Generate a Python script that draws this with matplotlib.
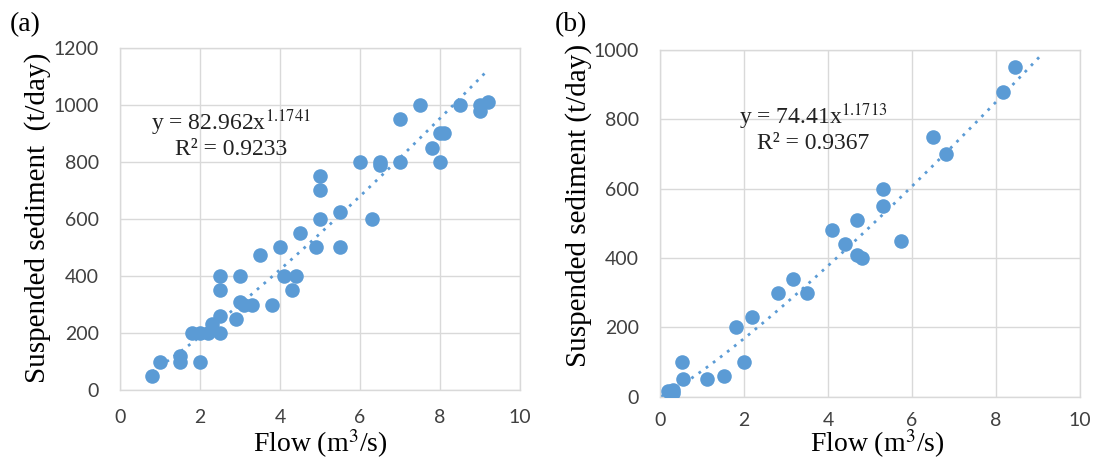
import numpy as np
import matplotlib; matplotlib.use("Agg")
import matplotlib.pyplot as plt

plt.rcParams["mathtext.fontset"] = "stix"

# panel (a)
flow_a = [0.8, 1.0, 1.5, 1.5, 2.0, 1.8, 2.0, 2.2, 2.3, 2.5, 2.5, 2.5, 2.5, 2.9, 3.0, 3.0, 3.1, 3.3,
          3.5, 3.8, 4.0, 4.1, 4.4, 4.3, 4.5, 4.9, 5.0, 5.0, 5.0, 5.5, 5.5, 6.0, 6.3, 6.5, 6.5,
          7.0, 7.0, 7.5, 7.8, 8.0, 8.1, 8.0, 8.5, 9.0, 9.0, 9.2]
sed_a = [50, 100, 120, 100, 100, 200, 200, 200, 230, 260, 200, 350, 400, 250, 400, 310, 300, 300,
         475, 300, 500, 400, 400, 350, 550, 500, 600, 700, 750, 625, 500, 800, 600, 800, 790,
         950, 800, 1000, 850, 900, 900, 800, 1000, 1000, 980, 1010]
coef_a, exp_a = 82.962, 1.1741
eq_a = "y = 82.962x$^{1.1741}$\nR² = 0.9233"

# panel (b)
flow_b = [0.2, 0.3, 0.3, 0.53, 0.56, 1.12, 1.53, 1.8, 2.0, 2.2, 2.8, 3.16, 3.5, 4.1, 4.4, 4.7,
          4.7, 4.8, 5.3, 5.3, 5.73, 6.5, 6.8, 8.17, 8.45]
sed_b = [15, 20, 10, 100, 50, 50, 60, 200, 100, 230, 300, 340, 300, 480, 440, 510,
         410, 400, 550, 600, 450, 750, 700, 880, 950]
coef_b, exp_b = 74.41, 1.1713
eq_b = "y = 74.41x$^{1.1713}$\nR² = 0.9367"

BLUE = "#5b9bd5"
GRID = "#d9d9d9"
TICK = "#404040"
SERIF = "Liberation Serif"

fig = plt.figure(figsize=(10.99, 4.61), dpi=100)
ax_a = fig.add_axes([0.1092, 0.154, 0.364, 0.7419])
ax_b = fig.add_axes([0.6005, 0.1395, 0.3822, 0.752])

def panel(ax, fx, sy, c, e, x0, x1, ymax, ystep, eq, eqpos, ylab, ylpos, xlpos, xpad):
    ax.scatter(fx, sy, s=110, color=BLUE, zorder=3, linewidths=0)
    xx = np.linspace(x0, x1, 200)
    ax.plot(xx, c * xx ** e, ls=(0, (1, 2.2)), lw=2, color=BLUE, zorder=2)
    ax.set_xlim(0, 10); ax.set_ylim(0, ymax)
    ax.set_xticks(range(0, 11, 2)); ax.set_yticks(range(0, ymax + 1, ystep))
    ax.grid(True, color=GRID, lw=1); ax.set_axisbelow(True)
    for s in ax.spines.values():
        s.set_color(GRID); s.set_linewidth(1)
    ax.tick_params(length=0, labelsize=14, labelcolor=TICK)
    ax.tick_params(axis="x", pad=xpad)
    ax.tick_params(axis="y", pad=15)
    for lb in ax.get_xticklabels() + ax.get_yticklabels():
        lb.set_family("Lato")
    ax.text(eqpos[0], eqpos[1], eq, ha="center", va="center", fontsize=17,
            family=SERIF, color="#222222", linespacing=1.05)
    ax.set_xlabel("Flow (m$^3$/s)", family=SERIF, fontsize=20)
    ax.set_ylabel(ylab, family=SERIF, fontsize=21)
    ax.xaxis.set_label_coords(*xlpos)
    ax.yaxis.set_label_coords(*ylpos)
    ax.xaxis.label.set_va("center"); ax.yaxis.label.set_va("center")

panel(ax_a, flow_a, sed_a, coef_a, exp_a, 0.8, 9.2, 1200, 200, eq_a, (2.78, 898),
      "Suspended sediment  (t/day)", (-0.205, 0.503), (0.5, -0.158), 14)
panel(ax_b, flow_b, sed_b, coef_b, exp_b, 0.02, 9.1, 1000, 200, eq_b, (3.65, 777),
      "Suspended sediment (t/day)", (-0.195, 0.553), (0.517, -0.135), 11)

fig.text(10 / 1099, 1 - 25 / 461, "(a)", family=SERIF, fontsize=20, va="center", ha="left")
fig.text(555 / 1099, 1 - 25 / 461, "(b)", family=SERIF, fontsize=20, va="center", ha="left")

fig.savefig("out.png", dpi=100)
